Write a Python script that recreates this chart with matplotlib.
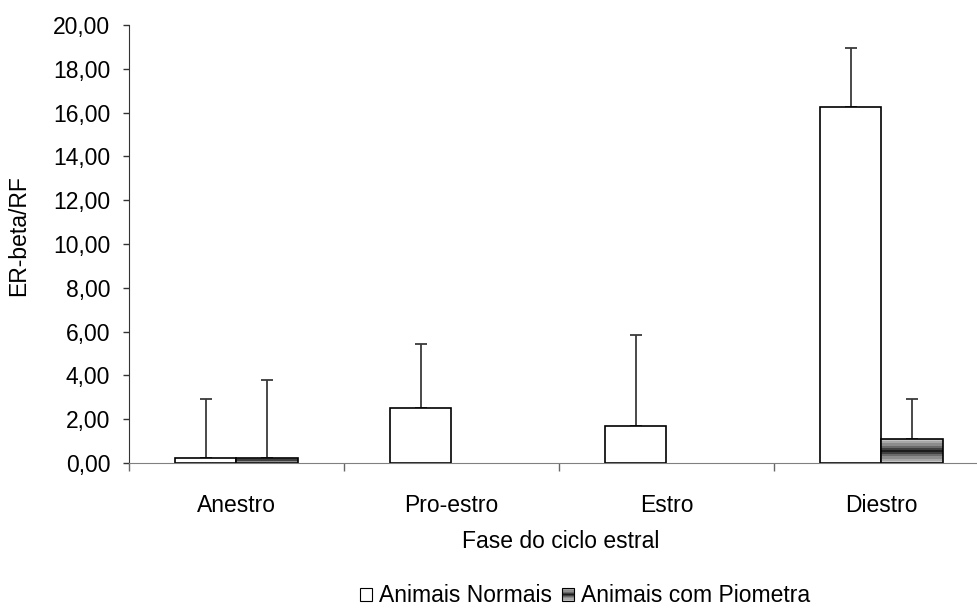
import matplotlib
matplotlib.use("Agg")
import matplotlib.pyplot as plt
import numpy as np
from matplotlib.colors import ListedColormap
from matplotlib.legend_handler import HandlerBase
from matplotlib.patches import Rectangle

plt.rcParams["font.family"] = ["Liberation Sans", "DejaVu Sans"]

phases = ["Anestro", "Pro-estro", "Estro", "Diestro"]
normal_mean = [0.24, 2.53, 1.68, 16.26]
normal_err = [2.66, 2.92, 4.17, 2.69]
piometra_mean = [0.24, 0.0, 0.0, 1.08]
piometra_err = [3.54, 0.0, 0.0, 1.82]
yticks = [0, 2, 4, 6, 8, 10, 12, 14, 16, 18, 20]

FS = 16.5
BAR_W = 0.288
ERR_COLOR = "#3a3a3a"
# banded grey gradient, light at the edges, near black in the middle
BANDS = ["#c4c4c4", "#a8a8a8", "#8c8c8c", "#6a6a6a", "#404040", "#1c1c1c",
         "#404040", "#6a6a6a", "#8c8c8c", "#a8a8a8", "#c4c4c4"]
band_cmap = ListedColormap(BANDS)


class GradientPatch(Rectangle):
    pass


class GradientHandler(HandlerBase):
    def create_artists(self, legend, orig_handle, xdescent, ydescent,
                       width, height, fontsize, trans):
        side = min(width, height)
        x0, y0 = -xdescent, -ydescent + (height - side) / 2
        n = len(BANDS)
        arts = []
        for k, c in enumerate(BANDS):
            arts.append(Rectangle((x0, y0 + side * k / n), side, side / n,
                                  facecolor=c, edgecolor="none", transform=trans))
        arts.append(Rectangle((x0, y0), side, side, facecolor="none",
                              edgecolor="black", lw=0.8, transform=trans))
        return arts


class SquareHandler(HandlerBase):
    def create_artists(self, legend, orig_handle, xdescent, ydescent,
                       width, height, fontsize, trans):
        side = min(width, height)
        return [Rectangle((-xdescent, -ydescent + (height - side) / 2), side, side,
                          facecolor="white", edgecolor="black", lw=0.8,
                          transform=trans)]


fig = plt.figure(figsize=(9.78, 6.16), dpi=100)
ax = fig.add_axes([129 / 978, 153 / 616, 860 / 978, 438 / 616])

x = np.arange(len(phases))
ax.bar(x - BAR_W, normal_mean, BAR_W, align="edge", facecolor="white",
       edgecolor="black", lw=1.2, zorder=3)
p_bars = ax.bar(x, piometra_mean, BAR_W, align="edge", facecolor="none",
                edgecolor="black", lw=1.2, zorder=4)

grad = np.linspace(0, 1, 200)[:, None]
for rect in p_bars:
    h = rect.get_height()
    if h <= 0:
        rect.set_linewidth(0)
        continue
    img = ax.imshow(grad, cmap=band_cmap, aspect="auto", interpolation="nearest",
                    extent=(rect.get_x(), rect.get_x() + rect.get_width(), 0, h),
                    zorder=3.5)
    img.set_clip_path(rect)

nm, ne = np.array(normal_mean), np.array(normal_err)
pm, pe = np.array(piometra_mean), np.array(piometra_err)
for xs, m, e in [(x - BAR_W / 2, nm, ne), (x + BAR_W / 2, pm, pe)]:
    keep = e > 0
    ax.errorbar(xs[keep], m[keep], yerr=[np.zeros(keep.sum()), e[keep]],
                fmt="none", ecolor=ERR_COLOR, elinewidth=1.3, capsize=4,
                capthick=1.3, zorder=2)

ax.set_xlim(-0.5, len(phases) - 0.5)
ax.set_ylim(0, 20)
ax.set_yticks(yticks)
ax.set_yticklabels([f"{v:.2f}".replace(".", ",") for v in yticks], fontsize=FS)
ax.tick_params(axis="y", direction="out", length=4.5, width=1, pad=9,
               color="#333333")

ax.set_xticks(np.arange(-0.5, len(phases) - 0.4, 1.0))
ax.set_xticklabels([])
ax.tick_params(axis="x", which="major", direction="out", length=6, width=1,
               color="#666666")
ax.set_xticks(x, minor=True)
ax.set_xticklabels(phases, minor=True, fontsize=FS)
ax.tick_params(axis="x", which="minor", length=0, pad=22)

for side in ["top", "right"]:
    ax.spines[side].set_visible(False)
ax.spines["left"].set_color("#333333")
ax.spines["bottom"].set_color("#808080")
ax.spines["bottom"].set_zorder(5)

fig.text(561 / 978, 1 - 541 / 616, "Fase do ciclo estral", fontsize=FS,
         ha="center", va="center")
fig.text(19 / 978, 1 - 236 / 616, "ER-beta/RF", fontsize=FS, rotation=90,
         ha="center", va="center")

h_normal = Rectangle((0, 0), 1, 1, label="Animais Normais")
h_pio = GradientPatch((0, 0), 1, 1, label="Animais com Piometra")
fig.legend(handles=[h_normal, h_pio], loc="center",
           bbox_to_anchor=(585 / 978, 1 - 596 / 616), ncol=2, frameon=False,
           fontsize=FS, handlelength=0.55, handleheight=0.55,
           handletextpad=0.3, columnspacing=0.4,
           handler_map={Rectangle: SquareHandler(), GradientPatch: GradientHandler()})

fig.savefig("out.png", dpi=100)
